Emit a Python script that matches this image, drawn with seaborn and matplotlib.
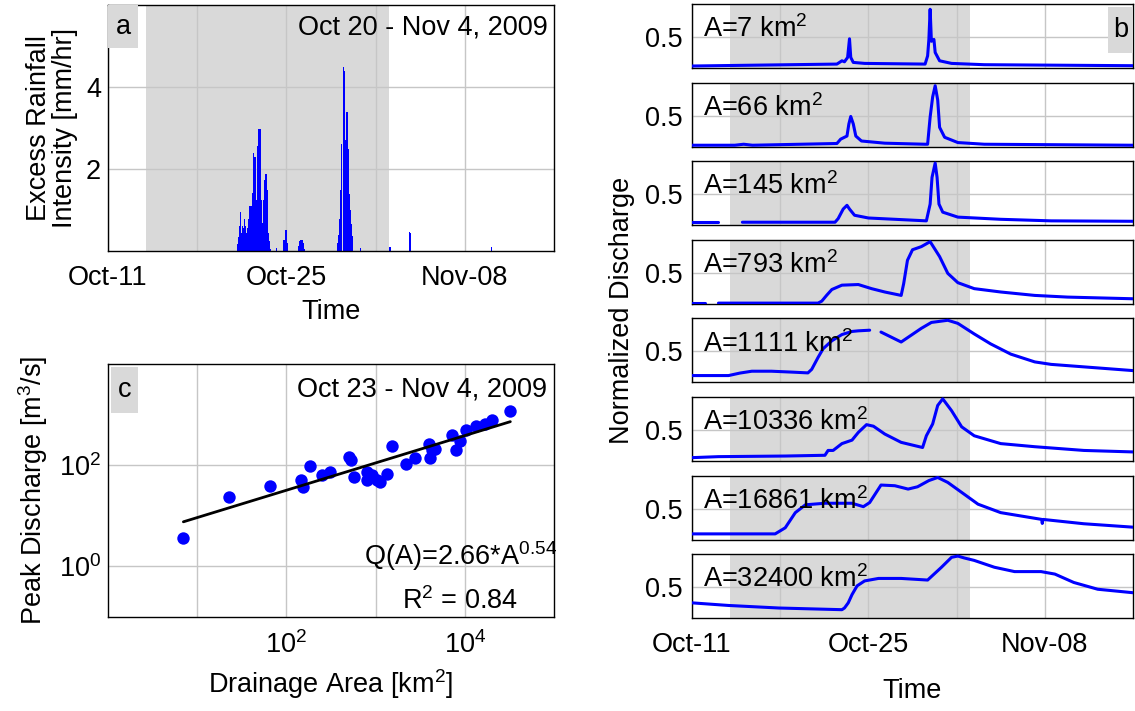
import numpy as np
import pandas as pd
import matplotlib
matplotlib.use("Agg")
import matplotlib.pyplot as plt
from matplotlib.patches import Rectangle
from matplotlib.ticker import FixedLocator, NullFormatter, LogFormatterSciNotation
import seaborn as sns

# ---------------------------------------------------------------- data
# time axis: days after 2009-10-11 00:00
TIME_TICKS = [0, 14, 28]
TIME_LABELS = ["Oct-11", "Oct-25", "Nov-08"]
TIME_GRID = [7, 21]
TIME_LIMITS = (0, 35)
STORM_WINDOW = (3.0, 22.05)          # grey band, Oct 14 - Nov 2

# (a) excess rainfall intensity [mm/hr]
RAIN_DAY = [10.15, 10.23, 10.31, 10.41, 10.49, 10.57, 10.64, 10.70, 10.80, 10.87,
            10.93, 11.04, 11.14, 11.25, 11.35, 11.43, 11.54, 11.64, 11.75, 11.85,
            11.93, 12.01, 12.08, 12.19, 12.30, 12.40, 12.48, 12.56, 12.66, 12.77,
            13.24, 13.81, 13.91, 13.99, 14.07, 14.93, 15.01, 15.12, 15.22, 15.32,
            15.43, 17.99, 18.09, 18.20, 18.28, 18.35, 18.46, 18.56, 18.64, 18.75,
            18.85, 18.95, 19.03, 19.11, 19.19, 19.82, 22.12, 23.68, 23.76, 30.11]
RAIN_MMHR = [0.16, 0.35, 0.60, 0.95, 0.44, 0.60, 0.55, 0.77, 0.60, 0.45,
             0.56, 0.77, 1.09, 1.10, 1.41, 2.38, 2.30, 1.25, 2.56, 2.98,
             2.97, 1.25, 0.69, 1.25, 1.73, 1.87, 1.49, 0.44, 0.24, 0.04,
             0.08, 0.28, 0.52, 0.51, 0.20, 0.12, 0.24, 0.27, 0.28, 0.20,
             0.06, 0.20, 0.40, 0.77, 1.49, 2.62, 4.49, 4.40, 2.70, 3.39,
             2.50, 1.40, 1.00, 0.65, 0.36, 0.08, 0.10, 0.47, 0.45, 0.09]

# (b) normalized discharge per gauge (NaN = missing record)
AREAS_KM2 = [7, 66, 145, 793, 1111, 10336, 16861, 32400]

DAY_A7 = [0, 11.5, 11.9, 12.1, 12.35, 12.5, 12.6, 12.8, 13.7, 18.5, 18.7, 18.8,
          18.9, 19.0, 19.2, 19.3, 19.65, 20.6, 23.2, 35]
Q_A7 = [0.032, 0.063, 0.116, 0.10, 0.17, 0.47, 0.17, 0.09, 0.074, 0.063, 0.195, 0.46,
        0.945, 0.43, 0.46, 0.25, 0.116, 0.074, 0.053, 0.037]

DAY_A66 = [0, 3.4, 4.1, 4.8, 11.5, 11.8, 12.3, 12.45, 12.6, 12.8, 13.0, 13.45,
           15.3, 18.5, 18.7, 18.9, 19.1, 19.3, 19.5, 19.65, 20.05, 21.1, 23.2, 35]
Q_A66 = [0.022, 0.022, 0.038, 0.022, 0.05, 0.12, 0.17, 0.365, 0.485, 0.365, 0.17, 0.09,
         0.055, 0.038, 0.038, 0.475, 0.80, 0.98, 0.75, 0.31, 0.15, 0.065, 0.038, 0.022]

DAY_A145 = [0, 2.1, 3.0, 4.0, 11.35, 11.6, 12.0, 12.3, 12.5, 12.9, 14.0, 16.6,
            18.6, 18.9, 19.05, 19.3, 19.45, 19.6, 19.9, 21.1, 24.5, 28.5, 35]
Q_A145 = [0.048, 0.048, np.nan, 0.048, 0.048, 0.106, 0.26, 0.32, 0.26, 0.16, 0.116, 0.09,
          0.07, 0.34, 0.77, 1.0, 0.77, 0.34, 0.21, 0.13, 0.095, 0.07, 0.063]

DAY_A793 = [0, 1.05, 1.5, 2.1, 10.0, 10.3, 10.7, 11.1, 11.9, 13.2, 14.25, 15.3, 16.6,
            16.8, 17.1, 17.5, 18.2, 18.9, 19.65, 20.3, 21.1, 22.4, 24.5, 27.2, 29.8, 35]
Q_A793 = [0.016, 0.016, np.nan, 0.011, 0.011, 0.043, 0.14, 0.23, 0.30, 0.31, 0.244, 0.19,
          0.135, 0.325, 0.70, 0.87, 0.92, 1.0, 0.76, 0.49, 0.34, 0.244, 0.19, 0.135, 0.108,
          0.081]

DAY_A1111 = [0, 2.9, 3.8, 4.75, 6.3, 8.0, 9.2, 9.5, 10.0, 10.4, 11.1, 11.9, 12.7,
             13.2, 14.1, 14.5, 15.0, 15.8, 16.6, 17.4, 18.2, 19.0, 20.3, 21.1, 22.4,
             23.7, 25.3, 27.2, 28.5, 31.1, 35]
Q_A1111 = [0.11, 0.11, 0.15, 0.18, 0.18, 0.165, 0.153, 0.21, 0.40, 0.54, 0.67, 0.77,
           0.82, 0.83, 0.84, np.nan, 0.81, 0.73, 0.65, 0.76, 0.87, 0.965, 1.0, 0.95,
           0.78, 0.62, 0.455, 0.33, 0.29, 0.25, 0.19]

DAY_A10336 = [0, 2.1, 7.4, 10.55, 10.8, 11.2, 11.9, 12.7, 13.2, 13.85, 14.4, 15.3,
              16.6, 18.3, 18.6, 19.1, 19.5, 19.9, 20.6, 21.4, 22.4, 24.5, 27.2, 31.1, 35]
Q_A10336 = [0.054, 0.07, 0.08, 0.092, 0.17, 0.17, 0.28, 0.336, 0.46, 0.585, 0.56, 0.434,
            0.30, 0.217, 0.406, 0.596, 0.894, 1.0, 0.81, 0.55, 0.406, 0.28, 0.23, 0.17, 0.146]

DAY_A16861 = [0, 6.6, 7.4, 8.2, 9.0, 10.55, 12.7, 13.6, 14.1, 15.0, 16.1, 17.15,
              17.9, 18.8, 19.5, 20.3, 21.4, 22.7, 24.5, 27.75, 27.8, 27.85, 31.1, 35]
Q_A16861 = [0.092, 0.092, 0.19, 0.434, 0.56, 0.585, 0.585, 0.53, 0.596, 0.878, 0.867,
            0.813, 0.85, 0.95, 1.0, 0.92, 0.76, 0.57, 0.434, 0.325, 0.26, 0.325, 0.255,
            0.20]

DAY_A32400 = [0, 2.9, 6.9, 11.9, 12.1, 12.4, 12.7, 13.1, 13.7, 14.8, 16.6, 18.7, 19.8,
              20.6, 21.1, 21.6, 22.4, 24.0, 25.6, 27.7, 28.8, 30.3, 32.2, 35]
Q_A32400 = [0.247, 0.205, 0.164, 0.137, 0.164, 0.247, 0.38, 0.52, 0.60, 0.64, 0.64,
            0.614, 0.82, 0.98, 1.0, 0.97, 0.93, 0.82, 0.75, 0.75, 0.71, 0.575, 0.466, 0.41]

# (c) peak discharge vs drainage area
AREA = [7, 22.6, 66, 145, 153, 185, 251, 307, 502, 536, 577, 793, 791, 916, 1024,
        1111, 1352, 1511, 2187, 2756, 3918, 4027, 4297, 4583, 7148, 8060, 8770,
        10336, 13400, 16861, 20150, 32400]
PEAK_Q = [3.6, 23.8, 39, 52, 37.5, 95.5, 62.7, 74, 143.6, 125, 59, 74, 52, 63.5, 50.7,
          47, 68.5, 236.8, 108, 141.6, 267, 139, 197, 213, 389, 203, 301,
          503, 585, 641, 768, 1172]
FIT_COEF = 2.66
FIT_EXP = 0.54
FIT_R2 = 0.84

# ---------------------------------------------------------------- style
sns.set_theme(style="whitegrid")
FS = 19.5
plt.rcParams.update({
    "font.family": ["Liberation Sans", "DejaVu Sans"],
    "mathtext.fontset": "custom",
    "mathtext.rm": "Liberation Sans",
    "mathtext.it": "Liberation Sans:italic",
    "mathtext.bf": "Liberation Sans:bold",
    "mathtext.default": "regular",
    "font.size": FS,
    "axes.labelsize": FS,
    "xtick.labelsize": FS,
    "ytick.labelsize": FS,
    "axes.edgecolor": "black",
    "axes.linewidth": 1.0,
    "axes.labelcolor": "black",
    "text.color": "black",
    "xtick.color": "black",
    "ytick.color": "black",
    "grid.color": "#c6c6c6",
    "grid.linewidth": 1.0,
    "xtick.major.size": 0,
    "ytick.major.size": 0,
    "xtick.minor.size": 0,
    "ytick.minor.size": 0,
    "xtick.major.pad": 10,
    "ytick.major.pad": 5,
})

BLUE = "#0000ff"
SHADE = "#d9d9d9"
W, H = 1135, 711
fig = plt.figure(figsize=(W / 100, H / 100), dpi=100)


def px_axes(left, top, right, bottom):
    return fig.add_axes([left / W, 1 - bottom / H, (right - left) / W, (bottom - top) / H])


def tag_box(ax, letter, x0, y0, w, h):
    ax.add_patch(Rectangle((x0, y0), w, h, transform=ax.transAxes, fc=SHADE,
                           ec="none", zorder=3, clip_on=False))
    ax.text(x0 + w / 2, y0 + h / 2, letter, transform=ax.transAxes, ha="center",
            va="center", fontsize=FS, zorder=4)


def time_axis(ax, labels=True):
    ax.set_xlim(*TIME_LIMITS)
    ax.xaxis.set_major_locator(FixedLocator(TIME_TICKS))
    ax.xaxis.set_minor_locator(FixedLocator(TIME_GRID))
    if labels:
        ax.set_xticklabels(TIME_LABELS)
    else:
        ax.set_xticklabels([])
    ax.grid(True, which="both", axis="x")
    ax.axvspan(*STORM_WINDOW, color=SHADE, lw=0, zorder=0)
    ax.set_axisbelow(True)


# ---------------------------------------------------------------- (a)
ax_a = px_axes(108, 5, 554, 251)
time_axis(ax_a)
ax_a.bar(RAIN_DAY, RAIN_MMHR, width=0.1, color=BLUE, linewidth=0, zorder=2)
ax_a.set_ylim(0, 6)
ax_a.set_yticks([2, 4])
ax_a.grid(True, axis="y")
ax_a.set_ylabel("Excess Rainfall\nIntensity [mm/hr]", labelpad=6, linespacing=1.0)
ax_a.set_xlabel("Time", labelpad=6)
ax_a.text(0.985, 0.96, "Oct 20 - Nov 4, 2009", transform=ax_a.transAxes,
          ha="right", va="top")
tag_box(ax_a, "a", 0.0, 0.825, 0.067, 0.175)

# ---------------------------------------------------------------- (c)
ax_c = px_axes(108, 364, 554, 617)
ax_c.set_xscale("log")
ax_c.set_yscale("log")
ax_c.set_xlim(1, 1e5)
ax_c.set_ylim(1e-1, 1e4)
sns.scatterplot(x=AREA, y=PEAK_Q, ax=ax_c, color=BLUE, s=80, linewidth=0, zorder=3)
fit_a = np.geomspace(min(AREA), max(AREA), 50)
sns.lineplot(x=fit_a, y=FIT_COEF * fit_a ** FIT_EXP, ax=ax_c, color="black", lw=2, zorder=4)
ax_c.xaxis.set_major_locator(FixedLocator([1e2, 1e4]))
ax_c.xaxis.set_minor_locator(FixedLocator([1e1, 1e3]))
ax_c.xaxis.set_major_formatter(LogFormatterSciNotation())
ax_c.xaxis.set_minor_formatter(NullFormatter())
ax_c.yaxis.set_major_locator(FixedLocator([1e0, 1e2]))
ax_c.yaxis.set_minor_locator(FixedLocator([]))
ax_c.yaxis.set_major_formatter(LogFormatterSciNotation())
ax_c.tick_params(axis="x", pad=10)
ax_c.grid(True, which="both", axis="x")
ax_c.grid(True, which="major", axis="y")
ax_c.set_axisbelow(True)
ax_c.set_xlabel("Drainage Area [km$^2$]", labelpad=6)
ax_c.set_ylabel("Peak Discharge [m$^3$/s]", labelpad=6)
ax_c.text(0.985, 0.95, "Oct 23 - Nov 4, 2009", transform=ax_c.transAxes,
          ha="right", va="top")
ax_c.text(0.79, 0.205, f"Q(A)={FIT_COEF:.2f}*A$^{{{FIT_EXP:.2f}}}$",
          transform=ax_c.transAxes, ha="center", va="baseline")
ax_c.text(0.79, 0.03, f"R$^2$ = {FIT_R2:.2f}", transform=ax_c.transAxes,
          ha="center", va="baseline")
tag_box(ax_c, "c", 0.007, 0.806, 0.06, 0.182)

# ---------------------------------------------------------------- (b)
gauges = [
    (DAY_A7, Q_A7), (DAY_A66, Q_A66), (DAY_A145, Q_A145), (DAY_A793, Q_A793),
    (DAY_A1111, Q_A1111), (DAY_A10336, Q_A10336), (DAY_A16861, Q_A16861),
    (DAY_A32400, Q_A32400),
]
b_axes = []
for i, (area, (days, q)) in enumerate(zip(AREAS_KM2, gauges)):
    top = 4 + i * 78.6
    ax = px_axes(692, top, 1133, top + 64)
    time_axis(ax, labels=(i == len(AREAS_KM2) - 1))
    df = pd.DataFrame({"day": days, "q": q})
    df["seg"] = df["q"].isna().cumsum()
    df = df.dropna()
    sns.lineplot(data=df, x="day", y="q", units="seg", estimator=None, ax=ax,
                 color=BLUE, lw=2.2, zorder=3, legend=False)
    ax.set_ylim(0, 1.03)
    ax.set_yticks([0.5])
    ax.set_yticklabels(["0.5"])
    ax.tick_params(axis="y", pad=7)
    ax.grid(True, axis="y")
    ax.set_xlabel("")
    ax.set_ylabel("")
    ax.text(0.025, 0.48, f"A={area} km$^2$", transform=ax.transAxes,
            ha="left", va="baseline", zorder=5)
    b_axes.append(ax)

tag_box(b_axes[0], "b", 0.943, 0.23, 0.057, 0.72)
b_axes[-1].set_xlabel("Time", labelpad=14)
fig.text(622 / W, 1 - 310 / H, "Normalized Discharge", rotation=90,
         ha="center", va="center", fontsize=FS)

fig.savefig("out.png", dpi=100)
